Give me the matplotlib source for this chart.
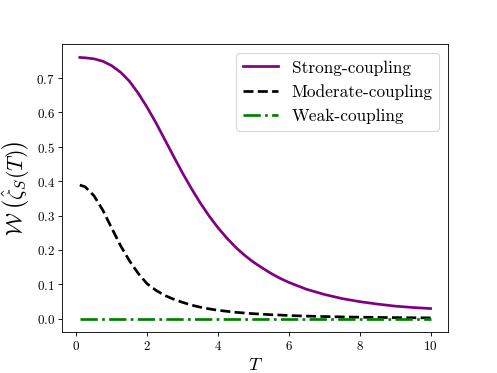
import numpy as np
import matplotlib
matplotlib.use("Agg")
import matplotlib.pyplot as plt

plt.rcParams["font.family"] = "serif"
plt.rcParams["font.serif"] = ["cmr10"]
plt.rcParams["mathtext.fontset"] = "cm"
plt.rcParams["axes.formatter.use_mathtext"] = True

# values
T = [0.1, 0.25, 0.5, 0.75, 1.0, 1.25, 1.5, 1.75, 2.0, 2.25, 2.5, 2.75,
     3.0, 3.25, 3.5, 3.75, 4.0, 4.25, 4.5, 4.75, 5.0, 5.25, 5.5, 5.75,
     6.0, 6.5, 7.0, 7.5, 8.0, 8.5, 9.0, 9.5, 10.0]
strong = [0.760, 0.759, 0.756, 0.749, 0.736, 0.717, 0.691, 0.656, 0.615,
          0.570, 0.521, 0.472, 0.424, 0.379, 0.337, 0.299, 0.265, 0.235,
          0.208, 0.185, 0.165, 0.148, 0.132, 0.118, 0.106, 0.086, 0.071,
          0.059, 0.050, 0.043, 0.037, 0.033, 0.030]
moderate = [0.389, 0.384, 0.358, 0.316, 0.264, 0.213, 0.169, 0.132, 0.102,
            0.083, 0.068, 0.057, 0.048, 0.040, 0.034, 0.029, 0.025, 0.022,
            0.019, 0.017, 0.015, 0.0135, 0.012, 0.011, 0.0097, 0.008, 0.0067,
            0.0057, 0.0048, 0.0042, 0.0036, 0.0032, 0.0028]
weak = [0.0] * len(T)

fig, ax = plt.subplots(figsize=(6.4, 4.8), dpi=77.8)

ax.plot(T, strong, color="purple", lw=2.5, label="Strong-coupling")
ax.plot(T, moderate, color="black", lw=2.5, ls="--", label="Moderate-coupling")
ax.plot(T, weak, color="green", lw=2.5, ls="-.", label="Weak-coupling")

ax.set_xlabel(r"$T$", fontsize=17)
ax.set_ylabel(r"$\mathcal{W}\;\left(\hat{\zeta}_S(T)\right)$", fontsize=20)
ax.tick_params(labelsize=12)
ax.legend(fontsize=16, loc="upper right")

plt.savefig("out.png", dpi=77.8)
